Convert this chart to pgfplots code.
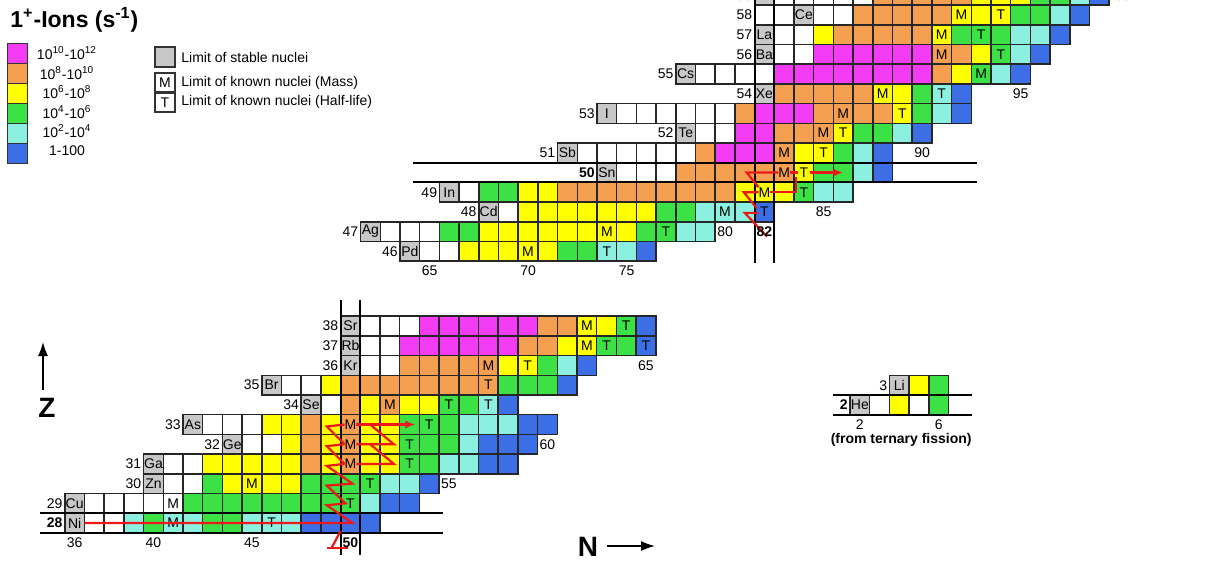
\documentclass[border=0pt]{standalone}
\usepackage{fontspec}
\setmainfont{Liberation Sans}
\usepackage{pgfplots}
\pgfplotsset{compat=1.18}
\usetikzlibrary{arrows.meta}
\definecolor{cMag}{RGB}{245,60,245}
\definecolor{cOra}{RGB}{245,160,80}
\definecolor{cYel}{RGB}{255,255,0}
\definecolor{cGre}{RGB}{60,225,70}
\definecolor{cCya}{RGB}{140,240,225}
\definecolor{cBlu}{RGB}{60,110,230}
\definecolor{cGra}{RGB}{200,200,200}
\definecolor{cRed}{RGB}{235,25,25}
\newcommand{\lab}{\fontsize{7}{8}\selectfont}
\pgfplotsset{
  chart/.style={hide axis, x=9.85pt, y=9.85pt, enlargelimits=false, clip=false, clip marker paths=true, anchor=south west},
  cell/.style={only marks, mark=square*, mark size=4.925pt, mark options={draw=black!85, line width=0.75pt, fill=#1}},
  txt/.style={only marks, mark=text, text mark={#1}, text mark as node=true, text mark style={font=\lab, inner sep=0pt}},
  magic/.style={black, line width=1.1pt, no marks},
  rpath/.style={cRed, line width=1.1pt, no marks},
  table/row sep=\\,
}
\begin{document}
\begin{tikzpicture}
\useasboundingbox (0,0) rectangle (604pt,-281.5pt);
\clip (0,0) rectangle (604pt,-281.5pt);

% ---------------- upper chart ----------------
\begin{axis}[chart, at={(165.525pt,-135.5pt)}, xmin=60, xmax=102, ymin=45, ymax=61]
\addplot[cell=white] table {x y\\
65 46\\66 46\\63 47\\64 47\\65 47\\69 48\\67 49\\75 50\\76 50\\77 50\\
73 51\\74 51\\75 51\\76 51\\77 51\\78 51\\79 52\\80 52\\
75 53\\76 53\\77 53\\78 53\\79 53\\80 53\\79 55\\80 55\\81 55\\82 55\\
83 56\\84 56\\83 57\\84 57\\82 58\\83 58\\85 58\\86 58\\83 59\\84 59\\85 59\\86 59\\87 59\\};
\addplot[cell=cGra] table {x y\\
64 46\\62 47\\68 48\\66 49\\74 50\\72 51\\78 52\\74 53\\82 54\\78 55\\82 56\\82 57\\84 58\\82 59\\};
\addplot[cell=cMag] table {x y\\
80 51\\81 51\\82 51\\81 52\\82 52\\82 53\\83 53\\84 53\\
83 55\\84 55\\85 55\\86 55\\87 55\\88 55\\89 55\\90 55\\
85 56\\86 56\\87 56\\88 56\\89 56\\90 56\\};
\addplot[cell=cOra] table {x y\\
72 49\\73 49\\74 49\\75 49\\76 49\\77 49\\78 49\\79 49\\80 49\\
78 50\\79 50\\80 50\\81 50\\82 50\\83 50\\79 51\\83 51\\83 52\\84 52\\85 52\\
81 53\\85 53\\86 53\\87 53\\88 53\\83 54\\84 54\\85 54\\86 54\\87 54\\
91 55\\91 56\\92 56\\86 57\\87 57\\88 57\\89 57\\90 57\\
87 58\\88 58\\89 58\\90 58\\91 58\\88 59\\89 59\\90 59\\91 59\\92 59\\};
\addplot[cell=cYel] table {x y\\
67 46\\68 46\\69 46\\70 46\\71 46\\68 47\\69 47\\70 47\\71 47\\72 47\\73 47\\74 47\\75 47\\
70 48\\71 48\\72 48\\73 48\\74 48\\75 48\\76 48\\70 49\\71 49\\81 49\\82 49\\83 49\\
84 50\\84 51\\85 51\\86 52\\89 53\\88 54\\89 54\\92 55\\93 56\\85 57\\91 57\\
92 58\\93 58\\94 58\\93 59\\94 59\\95 59\\};
\addplot[cell=cGre] table {x y\\
72 46\\73 46\\66 47\\67 47\\76 47\\77 47\\77 48\\78 48\\68 49\\69 49\\84 49\\
85 50\\86 50\\86 51\\87 52\\88 52\\90 53\\90 54\\93 55\\94 56\\92 57\\93 57\\94 57\\
95 58\\96 58\\96 59\\97 59\\};
\addplot[cell=cCya] table {x y\\
74 46\\75 46\\78 47\\79 47\\79 48\\80 48\\81 48\\85 49\\86 49\\87 50\\87 51\\89 52\\
91 53\\91 54\\94 55\\95 56\\95 57\\96 57\\97 58\\98 59\\};
\addplot[cell=cBlu] table {x y\\
76 46\\82 48\\88 50\\88 51\\90 52\\92 53\\92 54\\95 55\\96 56\\97 57\\98 58\\99 59\\};
% magic lines
\addplot[magic] coordinates {(64.16,49.5) (92.8,49.5)};
\addplot[magic] coordinates {(64.16,50.5) (92.8,50.5)};
\addplot[magic] coordinates {(81.5,45.4) (81.5,61)};
\addplot[magic] coordinates {(82.5,45.4) (82.5,61)};
% M and T
\addplot[txt=M] table {x y\\70 46\\74 47\\80 48\\82 49\\83 50\\83 51\\85 52\\86 53\\88 54\\93 55\\91 56\\91 57\\92 58\\};
\addplot[txt=T] table {x y\\74 46\\77 47\\82 48\\84 49\\84 50\\85 51\\86 52\\89 53\\91 54\\94 56\\93 57\\94 58\\};
% r-process path
\addplot[rpath] coordinates {(82.13,46.75) (81.0,47.95) (81.7,47.95)};
\addplot[rpath] coordinates {(81.6,48.2) (80.95,49) (81.7,49)};
\addplot[rpath] coordinates {(82.3,49) (83.6,49) (83.6,49.75)};
\addplot[rpath] coordinates {(81.7,49.25) (81.1,50) (82.7,50)};
\addplot[rpath] coordinates {(83.3,50) (83.7,50)};
\addplot[rpath, -{Latex[length=5pt,width=4pt]}] coordinates {(84.3,50) (86.0,50)};
% element symbols
\foreach \s/\n/\z in {Pd/64/46,Ag/62/47,Cd/68/48,In/66/49,Sn/74/50,Sb/72/51,Te/78/52,I/74/53,Xe/82/54,Cs/78/55,Ba/82/56,La/82/57,Ce/84/58,Pr/82/59}{
  \edef\tmp{\noexpand\node[font=\noexpand\lab, inner sep=0pt] at (axis cs:\n,\z) {\s};}\tmp}
\foreach \z/\n in {46/64,47/62,48/68,49/66,51/72,52/78,53/74,54/82,55/78,56/82,57/82,58/82,59/82}{
  \edef\tmp{\noexpand\node[font=\noexpand\lab, anchor=east, inner sep=0pt] at (axis cs:\n-0.6,\z) {\z};}\tmp}
\node[font=\lab\bfseries, anchor=east, inner sep=0pt] at (axis cs:73.4,50) {50};
\foreach \n/\z in {65/45,70/45,75/45,80/47,85/48,90/51,95/54,100/59}{
  \edef\tmp{\noexpand\node[font=\noexpand\lab, inner sep=0pt] at (axis cs:\n,\z) {\n};}\tmp}
\node[font=\lab\bfseries, inner sep=0pt] at (axis cs:82,47) {82};
\end{axis}

% ---------------- lower chart ----------------
\begin{axis}[chart, at={(7.775pt,-281.2pt)}, xmin=33, xmax=70, ymin=26, ymax=40]
\addplot[cell=white] table {x y\\
37 28\\38 28\\37 29\\38 29\\39 29\\40 29\\41 29\\41 30\\42 30\\41 31\\42 31\\45 32\\46 32\\
43 33\\44 33\\45 33\\49 34\\47 35\\48 35\\51 36\\52 36\\51 37\\52 37\\51 38\\52 38\\53 38\\};
\addplot[cell=cGra] table {x y\\
36 28\\36 29\\40 30\\40 31\\44 32\\42 33\\48 34\\46 35\\50 36\\50 37\\50 38\\};
\addplot[cell=cMag] table {x y\\
53 37\\54 37\\55 37\\56 37\\57 37\\58 37\\54 38\\55 38\\56 38\\57 38\\58 38\\59 38\\};
\addplot[cell=cOra] table {x y\\
48 31\\50 31\\48 32\\50 32\\48 33\\50 33\\50 34\\52 34\\
50 35\\51 35\\52 35\\53 35\\54 35\\55 35\\56 35\\57 35\\
53 36\\54 36\\55 36\\56 36\\57 36\\59 37\\60 37\\60 38\\61 38\\};
\addplot[cell=cYel] table {x y\\
44 30\\45 30\\46 30\\47 30\\43 31\\44 31\\45 31\\46 31\\47 31\\49 31\\51 31\\52 31\\
47 32\\49 32\\51 32\\52 32\\46 33\\47 33\\49 33\\51 33\\52 33\\51 34\\53 34\\54 34\\
49 35\\58 36\\59 36\\61 37\\62 37\\62 38\\63 38\\};
\addplot[cell=cGre] table {x y\\
40 28\\43 28\\44 28\\42 29\\43 29\\44 29\\45 29\\46 29\\47 29\\48 29\\49 29\\50 29\\
43 30\\48 30\\49 30\\50 30\\51 30\\53 31\\54 31\\53 32\\54 32\\55 32\\53 33\\54 33\\55 33\\
55 34\\56 34\\58 35\\59 35\\60 35\\60 36\\63 37\\64 37\\64 38\\};
\addplot[cell=cCya] table {x y\\
39 28\\41 28\\42 28\\45 28\\46 28\\47 28\\51 29\\52 30\\53 30\\55 31\\56 31\\56 32\\
56 33\\57 33\\58 33\\57 34\\61 36\\};
\addplot[cell=cBlu] table {x y\\
48 28\\49 28\\50 28\\51 28\\52 29\\53 29\\54 30\\57 31\\58 31\\57 32\\58 32\\59 32\\
59 33\\60 33\\58 34\\61 35\\62 36\\65 37\\65 38\\};
\addplot[magic] coordinates {(34.24,27.5) (54.7,27.5)};
\addplot[magic] coordinates {(34.24,28.5) (54.7,28.5)};
\addplot[magic] coordinates {(49.5,26.4) (49.5,39.3)};
\addplot[magic] coordinates {(50.5,26.4) (50.5,39.3)};
\addplot[txt=M] table {x y\\41 28\\41 29\\45 30\\50 31\\50 32\\50 33\\52 34\\57 36\\62 37\\62 38\\};
\addplot[txt=T] table {x y\\46 28\\50 29\\51 30\\53 31\\53 32\\54 33\\55 34\\57 34\\57 35\\59 36\\63 37\\65 37\\64 38\\};
% r-process path
\addplot[rpath] coordinates {(36.5,28) (50.1,28) (48.8,28.9) (49.75,29) (48.8,29.9) (50.1,30) (48.8,30.9) (49.7,31)};
\addplot[rpath] coordinates {(49.7,31) (48.8,31.9) (49.7,32)};
\addplot[rpath] coordinates {(49.7,32) (48.8,32.9) (49.7,33)};
\addplot[rpath] coordinates {(50.3,31) (52.2,31) (51.0,32)};
\addplot[rpath] coordinates {(50.3,32) (52.2,32) (51.0,33)};
\addplot[rpath, -{Latex[length=5pt,width=4pt]}] coordinates {(50.3,33) (53.3,33)};
\addplot[rpath] coordinates {(49.5,27.6) (49.05,26.75)};
\addplot[rpath] coordinates {(48.8,26.75) (49.9,26.75)};
\foreach \s/\n/\z in {Ni/36/28,Cu/36/29,Zn/40/30,Ga/40/31,Ge/44/32,As/42/33,Se/48/34,Br/46/35,Kr/50/36,Rb/50/37,Sr/50/38}{
  \edef\tmp{\noexpand\node[font=\noexpand\lab, inner sep=0pt] at (axis cs:\n,\z) {\s};}\tmp}
\foreach \z/\n in {29/36,30/40,31/40,32/44,33/42,34/48,35/46,36/50,37/50,38/50}{
  \edef\tmp{\noexpand\node[font=\noexpand\lab, anchor=east, inner sep=0pt] at (axis cs:\n-0.6,\z) {\z};}\tmp}
\node[font=\lab\bfseries, anchor=east, inner sep=0pt] at (axis cs:35.4,28) {28};
\foreach \n/\z in {36/27,40/27,45/27,55/30,60/32,65/36}{
  \edef\tmp{\noexpand\node[font=\noexpand\lab, inner sep=0pt] at (axis cs:\n,\z) {\n};}\tmp}
\node[font=\lab\bfseries, inner sep=0pt] at (axis cs:50,27) {50};
\end{axis}

% ---------------- He / Li inset ----------------
\begin{axis}[chart, at={(410.225pt,-222.2pt)}, xmin=0, xmax=8, ymin=0, ymax=5]
\addplot[cell=white] table {x y\\3 2\\5 2\\};
\addplot[cell=cGra] table {x y\\4 3\\2 2\\};
\addplot[cell=cYel] table {x y\\5 3\\4 2\\};
\addplot[cell=cGre] table {x y\\6 3\\6 2\\};
\addplot[magic] coordinates {(0.64,1.5) (7.7,1.5)};
\addplot[magic] coordinates {(0.64,2.5) (7.7,2.5)};
\node[font=\lab, inner sep=0pt] at (axis cs:4,3) {Li};
\node[font=\lab, inner sep=0pt] at (axis cs:2,2) {He};
\node[font=\lab, anchor=east, inner sep=0pt] at (axis cs:3.4,3) {3};
\node[font=\lab\bfseries, anchor=east, inner sep=0pt] at (axis cs:1.4,2) {2};
\node[font=\lab, inner sep=0pt] at (axis cs:2,1) {2};
\node[font=\lab, inner sep=0pt] at (axis cs:6,1) {6};
\node[font=\lab\bfseries, inner sep=0pt] at (axis cs:4.1,0.25) {(from ternary fission)};
\end{axis}

% ---------------- legends and titles ----------------
\begin{scope}[x=0.5pt,y=-0.5pt]
\node[anchor=base west, inner sep=0pt, font=\fontsize{11.5}{13}\selectfont\bfseries] at (10,27) {1\textsuperscript{+}-Ions (s\textsuperscript{-1})};
\foreach \c/\i/\t in {cMag/0/{10\textsuperscript{10}-10\textsuperscript{12}},cOra/1/{10\textsuperscript{8}-10\textsuperscript{10}},cYel/2/{10\textsuperscript{6}-10\textsuperscript{8}},cGre/3/{10\textsuperscript{4}-10\textsuperscript{6}},cCya/4/{10\textsuperscript{2}-10\textsuperscript{4}},cBlu/5/{1-100}}{
  \filldraw[fill=\c, draw=black!80, line width=0.5pt] (7,43+\i*20) rectangle (27,63+\i*20);
  \node[font=\lab, inner sep=0pt] at (67,53+\i*19.6) {\t};
}
\filldraw[fill=cGra, draw=black!80, line width=0.6pt] (155,47) rectangle (175,67);
\draw[black!80, line width=0.6pt] (155,73) rectangle (175,92);
\draw[black!80, line width=0.6pt] (155,93) rectangle (175,112);
\node[font=\lab, inner sep=0pt] at (165,82.5) {M};
\node[font=\lab, inner sep=0pt] at (165,102.5) {T};
\node[font=\lab, anchor=west, inner sep=0pt] at (181,57) {Limit of stable nuclei};
\node[font=\lab, anchor=west, inner sep=0pt] at (181,83) {Limit of known nuclei (Mass)};
\node[font=\lab, anchor=west, inner sep=0pt] at (181,102) {Limit of known nuclei (Half-life)};
\draw[line width=0.7pt, -{Latex[length=7pt,width=5pt]}] (43,390) -- (43,342);
\node[font=\fontsize{14}{16}\selectfont\bfseries, inner sep=0pt] at (47,408) {Z};
\node[font=\fontsize{14}{16}\selectfont\bfseries, inner sep=0pt] at (588,547) {N};
\draw[line width=0.7pt, -{Latex[length=7pt,width=5pt]}] (607,546) -- (655,546);
\end{scope}
\end{tikzpicture}
\end{document}
